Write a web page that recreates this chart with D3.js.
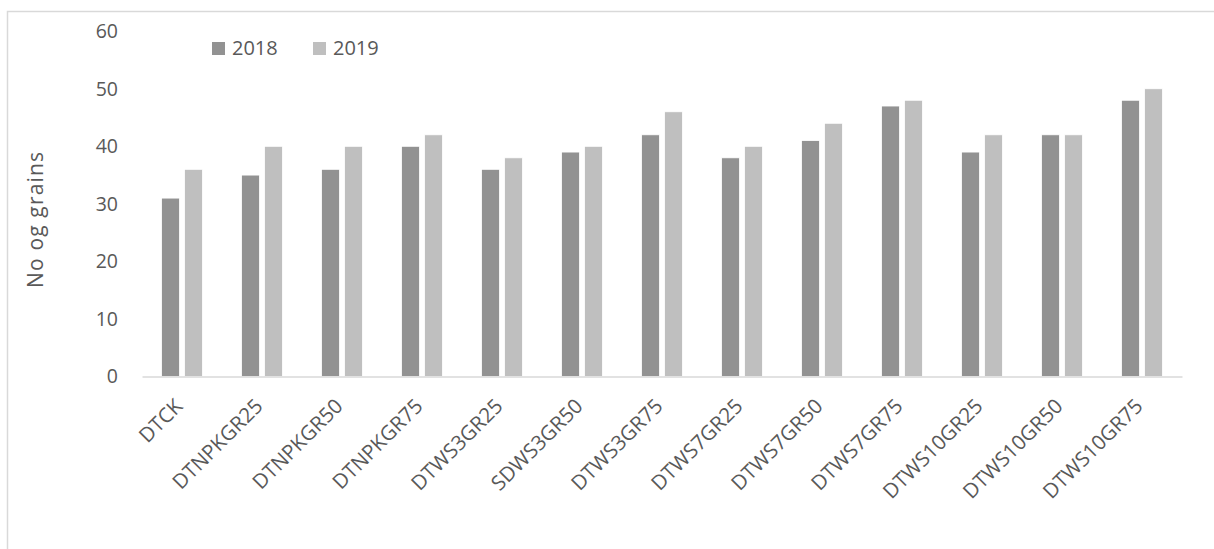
<!DOCTYPE html>
<html>
<head>
<meta charset="utf-8">
<script src="https://cdn.jsdelivr.net/npm/d3@7"></script>
<style>
  html, body { margin: 0; padding: 0; background: #fff; }
  svg { display: block; font-family: "Open Sans", "Noto Sans", sans-serif; }
</style>
</head>
<body>
<svg id="chart" width="1214" height="549"></svg>
<script>
// Treatments along the x axis
const categories = [
  "DTCK", "DTNPKGR25", "DTNPKGR50", "DTNPKGR75", "DTWS3GR25", "SDWS3GR50",
  "DTWS3GR75", "DTWS7GR25", "DTWS7GR50", "DTWS7GR75", "DTWS10GR25",
  "DTWS10GR50", "DTWS10GR75"
];
// Number of grains per season
const years = ["2018", "2019"];
const grains2018 = [31, 35, 36, 40, 36, 39, 42, 38, 41, 47, 39, 42, 48];
const grains2019 = [36, 40, 40, 42, 38, 40, 46, 40, 44, 48, 42, 42, 50];
const yTicks = [0, 10, 20, 30, 40, 50, 60];
const yTitle = "No og grains";

const colors = { "2018": "#929292", "2019": "#bfbfbf" };
const textColor = "#595959";

const svg = d3.select("#chart");

// Outer frame of the chart area
svg.append("rect")
  .attr("x", 7.5).attr("y", 11.5)
  .attr("width", 1240).attr("height", 600)
  .attr("fill", "none")
  .attr("stroke", "#d9d9d9")
  .attr("stroke-width", 1.5);

const plot = { left: 142, right: 1182, top: 31.2, bottom: 376.5 };

const x = d3.scaleBand().domain(categories).range([plot.left, plot.right]).padding(0);
const xInner = d3.scaleBand().domain(years)
  .range([x.bandwidth() * 0.244, x.bandwidth() * 0.756])
  .paddingInner(0.217).paddingOuter(0);
const y = d3.scaleLinear().domain([0, 60]).range([plot.bottom, plot.top]);

const rows = categories.map((c, i) => ({
  category: c,
  values: [
    { year: "2018", value: grains2018[i] },
    { year: "2019", value: grains2019[i] }
  ]
}));

// Bars
const groups = svg.append("g").selectAll("g")
  .data(rows).join("g")
  .attr("transform", d => `translate(${x(d.category)},0)`);

groups.selectAll("rect")
  .data(d => d.values).join("rect")
  .attr("x", d => xInner(d.year))
  .attr("y", d => y(d.value))
  .attr("width", xInner.bandwidth())
  .attr("height", d => y(0) - y(d.value))
  .attr("fill", d => colors[d.year])
  .attr("stroke", "#ffffff")
  .attr("stroke-width", 0.8);

// Category axis: baseline and rotated labels
const xAxis = svg.append("g")
  .attr("transform", `translate(0,${plot.bottom})`)
  .call(d3.axisBottom(x).tickSize(0).tickPadding(0));
xAxis.select(".domain").attr("stroke", "#d9d9d9").attr("stroke-width", 1.5);
xAxis.selectAll(".tick text")
  .attr("fill", textColor)
  .attr("font-size", 20.5)
  .attr("font-family", "'Open Sans', sans-serif")
  .attr("text-anchor", "end")
  .attr("dy", null)
  .attr("y", 0)
  .attr("transform", "translate(2,31) rotate(-45)");

// Value axis: labels only
const yAxis = svg.append("g")
  .attr("transform", `translate(${plot.left},0)`)
  .call(d3.axisLeft(y).tickValues(yTicks).tickSize(0).tickPadding(24));
yAxis.select(".domain").remove();
yAxis.selectAll(".tick text")
  .attr("fill", textColor)
  .attr("font-size", 19.5)
  .attr("font-family", "'Open Sans', sans-serif");

// Axis title
svg.append("text")
  .attr("transform", "translate(43,220) rotate(-90)")
  .attr("text-anchor", "middle")
  .attr("fill", textColor)
  .attr("font-size", 21)
  .attr("textLength", 136)
  .attr("lengthAdjust", "spacing")
  .text(yTitle);

// Legend
const legend = svg.append("g");
const legendX = [212, 313];
years.forEach((yr, i) => {
  legend.append("rect")
    .attr("x", legendX[i]).attr("y", 42)
    .attr("width", 13).attr("height", 13)
    .attr("fill", colors[yr]);
  legend.append("text")
    .attr("x", legendX[i] + 20).attr("y", 55)
    .attr("fill", textColor)
    .attr("font-size", 20)
    .text(yr);
});
</script>
</body>
</html>
